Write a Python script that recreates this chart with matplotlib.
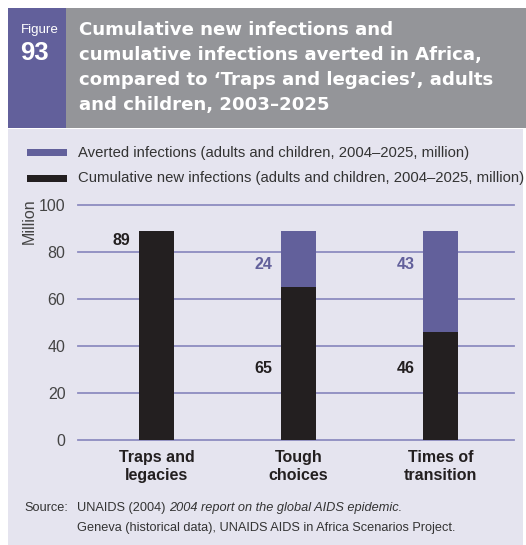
import matplotlib
matplotlib.use("Agg")
import matplotlib.pyplot as plt
from matplotlib.patches import Rectangle
from matplotlib import font_manager

# Data (million)
categories = ["Traps and\nlegacies", "Tough\nchoices", "Times of\ntransition"]
new_infections = [89, 65, 46]
averted = [0, 24, 43]
yticks = [0, 20, 40, 60, 80, 100]

PURPLE = "#62609b"
BLACK = "#231f20"
GREY_BAR = "#949599"
PANEL = "#e5e4ef"
GRID = "#8d8cc0"
TEXT = "#231f20"

plt.rcParams["font.family"] = ["Liberation Sans", "DejaVu Sans"]
names = {f.name for f in font_manager.fontManager.ttflist}
narrow = "Liberation Sans Narrow" if "Liberation Sans Narrow" in names else "Liberation Sans"

W, H = 526, 545
fig = plt.figure(figsize=(W / 100, H / 100), dpi=100)
fig.patch.set_facecolor("white")

def px(x, y):
    return x / W, 1 - y / H

def rect(x0, y0, x1, y1, color):
    fig.patches.append(Rectangle((x0 / W, 1 - y1 / H), (x1 - x0) / W, (y1 - y0) / H,
                                 transform=fig.transFigure, facecolor=color,
                                 edgecolor="none", zorder=-1))

# header and panel
rect(8, 129, 523, 545, PANEL)
rect(66, 8, 526, 128, GREY_BAR)
rect(8, 8, 66, 128, PURPLE)

fig.text(*px(21, 33), "Figure", color="white", fontsize=9.6, family=narrow,
         ha="left", va="baseline")
fig.text(*px(20, 60), "93", color="white", fontsize=18.5, family=narrow,
         fontweight="bold", ha="left", va="baseline")
title_lines = ["Cumulative new infections and",
               "cumulative infections averted in Africa,",
               "compared to \u2018Traps and legacies\u2019, adults",
               "and children, 2003\u20132025"]
for i, line in enumerate(title_lines):
    fig.text(*px(79, 35 + 25 * i), line, color="white", fontsize=13.1,
             fontweight="bold", family="DejaVu Sans", ha="left", va="baseline")

# legend
rect(27, 149, 67, 156, PURPLE)
rect(27, 175, 67, 182, BLACK)
fig.text(*px(78, 153), "Averted infections (adults and children, 2004\u20132025, million)",
         color="#333333", fontsize=10.75, ha="left", va="center")
fig.text(*px(78, 178), "Cumulative new infections (adults and children, 2004\u20132025, million)",
         color="#333333", fontsize=10.75, ha="left", va="center")

# axes
ax = fig.add_axes([78 / W, 1 - 440 / H, (514 - 78) / W, (440 - 205) / H])
ax.set_facecolor("none")
x = list(range(len(categories)))
ax.set_xlim(-0.553, 2.518)
ax.set_ylim(0, 100)
for t in yticks:
    ax.axhline(t, color=GRID, lw=1.3, zorder=1, clip_on=False)
bw = 0.246
ax.bar(x, new_infections, width=bw, color=BLACK, zorder=3)
ax.bar(x, averted, width=bw, bottom=new_infections, color=PURPLE, zorder=3)

for s in ax.spines.values():
    s.set_visible(False)
ax.set_yticks(yticks)
ax.set_yticklabels([str(t) for t in yticks], color="#444444", fontsize=11.5)
ax.tick_params(axis="y", length=0, pad=9)
ax.set_xticks(x)
ax.set_xticklabels(categories, fontsize=11.5, fontweight="bold", color=TEXT,
                   linespacing=1.25)
ax.tick_params(axis="x", length=0, pad=7)
ax.set_ylabel("Million", fontsize=11.5, color="#444444")
ax.yaxis.set_label_coords(-0.095, 0.93)

# value labels
off = bw / 2 + 0.06
ax.text(x[0] - off, 85, f"{new_infections[0]}", ha="right", va="center",
        fontsize=11.5, fontweight="bold", color=TEXT)
for i in (1, 2):
    ax.text(x[i] - off, 74.5, f"{averted[i]}", ha="right", va="center",
            fontsize=11.5, fontweight="bold", color=PURPLE)
    ax.text(x[i] - off, 30.5, f"{new_infections[i]}", ha="right", va="center",
            fontsize=11.5, fontweight="bold", color=TEXT)

# source
fig.text(*px(24, 508), "Source:", color="#333333", fontsize=9.2, ha="left", va="center")
t1 = fig.text(*px(77, 508), "UNAIDS (2004) ", color="#333333", fontsize=9.2,
              ha="left", va="center")
fig.canvas.draw()
bb = t1.get_window_extent()
fig.text(bb.x1 / W, 1 - 508 / H, "2004 report on the global AIDS epidemic.",
         color="#333333", fontsize=9.2, style="italic", ha="left", va="center")
fig.text(*px(77, 528), "Geneva (historical data), UNAIDS AIDS in Africa Scenarios Project.",
         color="#333333", fontsize=9.2, ha="left", va="center")

fig.savefig("out.png", dpi=100, facecolor=fig.get_facecolor())
